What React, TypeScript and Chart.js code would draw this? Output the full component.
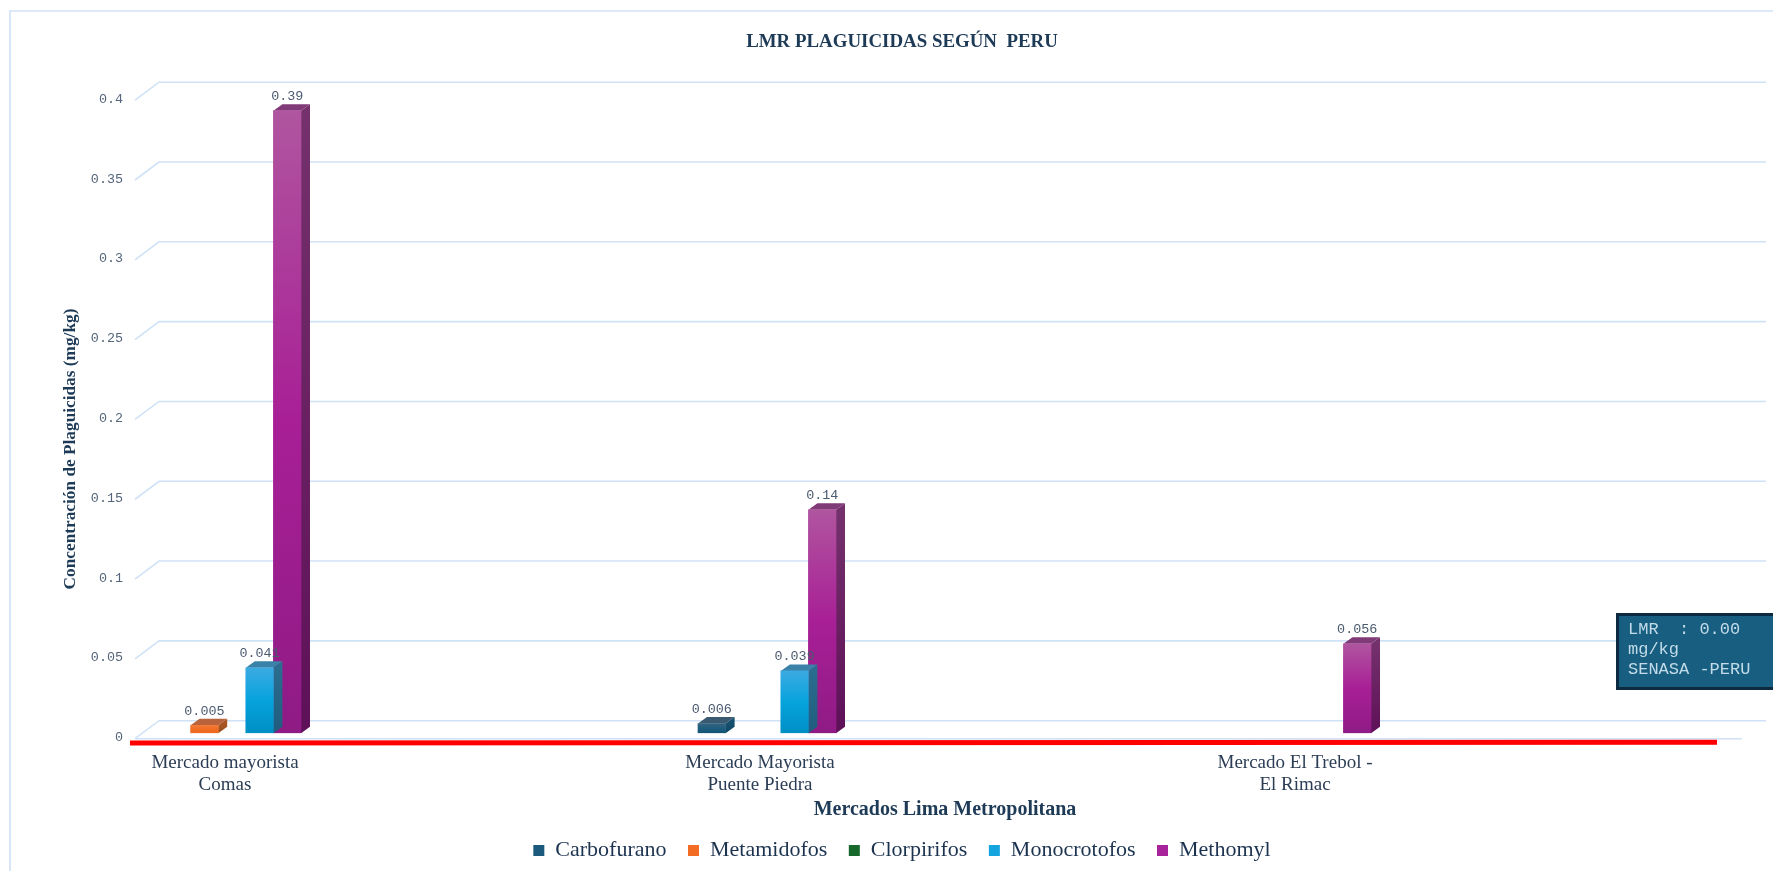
import React, { useEffect, useRef } from "react";
import { Chart, registerables } from "chart.js";

Chart.register(...registerables);

const categories = [
  ["Mercado mayorista", "Comas"],
  ["Mercado Mayorista", "Puente Piedra"],
  ["Mercado El Trebol -", "El Rimac"],
];
const carbofurano = [null, 0.006, null];
const metamidofos = [0.005, null, null];
const clorpirifos = [null, null, null];
const monocrotofos = [0.041, 0.039, null];
const methomyl = [0.39, 0.14, 0.056];
const lmrLines = ["LMR  : 0.00", "mg/kg", "SENASA -PERU"];

const serif = "'Liberation Serif'";
const mono = "'Liberation Mono'";
const GRID = "#cfe2f6";

const seriesStyles = [
  { label: "Carbofurano", data: carbofurano, front: ["#35627f", "#1e5d80", "#115473"], side: ["#15506e", "#0f4560"], top: "#3a5a72", swatch: "#1b5a7c" },
  { label: "Metamidofos", data: metamidofos, front: ["#f27c3c", "#f26c24", "#ee6a1f"], side: ["#a85522", "#974a1b"], top: "#b8633c", swatch: "#f26c24" },
  { label: "Clorpirifos", data: clorpirifos, front: ["#2a7a3c", "#16692a", "#0f5a20"], side: ["#0f4a1c", "#0b3d16"], top: "#2f6a3e", swatch: "#16692a" },
  { label: "Monocrotofos", data: monocrotofos, front: ["#3caae2", "#06a3dd", "#008fc4"], side: ["#2a6d8f", "#1f5d7e"], top: "#3b82a8", swatch: "#14a4de" },
  { label: "Methomyl", data: methomyl, front: ["#b0559f", "#a81f96", "#8f1b85"], side: ["#74316c", "#5e1058"], top: "#803a78", swatch: "#a8229a" },
];

const DX = 9;
const DY = 6.5;

function gradientFor(ctx: any, front: string[]) {
  if (ctx.type !== "data" || !ctx.parsed || !Number.isFinite(ctx.parsed.y)) return front[1];
  const y = ctx.chart.scales.y;
  const g = ctx.chart.ctx.createLinearGradient(0, y.getPixelForValue(ctx.parsed.y), 0, y.getPixelForValue(0));
  g.addColorStop(0, front[0]);
  g.addColorStop(0.5, front[1]);
  g.addColorStop(1, front[2]);
  return g;
}

const scene = {
  id: "scene",
  afterLayout(chart: any) {
    chart.titleBlock.left += 62;
    chart.legend.left += 62;
    chart.legend.top = 818;
  },
  beforeDatasetsDraw(chart: any) {
    const { ctx } = chart;
    const { x, y } = chart.scales;
    const l = x.left;
    const r = x.right;
    ctx.save();
    ctx.strokeStyle = GRID;
    ctx.lineWidth = 1.6;
    // chart frame
    ctx.beginPath();
    ctx.moveTo(10, 871);
    ctx.lineTo(10, 11);
    ctx.lineTo(1773, 11);
    ctx.stroke();
    // 3D walls
    y.ticks.forEach((t: any) => {
      const py = y.getPixelForValue(t.value);
      ctx.beginPath();
      ctx.moveTo(l, py + 5.5);
      ctx.lineTo(l + 24, py - 12.5);
      ctx.lineTo(r + 24, py - 12.5);
      ctx.stroke();
    });
    const y0 = y.getPixelForValue(0);
    ctx.beginPath();
    ctx.moveTo(l, y0 + 5.5);
    ctx.lineTo(r, y0 + 5.5);
    ctx.stroke();
    ctx.restore();
  },
  beforeDatasetDraw(chart: any, args: any) {
    const { ctx } = chart;
    const st = seriesStyles[args.index];
    const meta = chart.getDatasetMeta(args.index);
    meta.data.forEach((b: any, i: number) => {
      const v = st.data[i];
      if (v === null) return;
      const p = b.getProps(["x", "y", "base", "width"], true);
      const left = p.x - p.width / 2;
      const right = p.x + p.width / 2;
      ctx.save();
      const g = ctx.createLinearGradient(0, p.y, 0, p.base);
      g.addColorStop(0, st.side[0]);
      g.addColorStop(1, st.side[1]);
      ctx.fillStyle = g;
      ctx.beginPath();
      ctx.moveTo(right, p.y);
      ctx.lineTo(right + DX, p.y - DY);
      ctx.lineTo(right + DX, p.base - DY);
      ctx.lineTo(right, p.base);
      ctx.closePath();
      ctx.fill();
      ctx.fillStyle = st.top;
      ctx.beginPath();
      ctx.moveTo(left, p.y);
      ctx.lineTo(left + DX, p.y - DY);
      ctx.lineTo(right + DX, p.y - DY);
      ctx.lineTo(right, p.y);
      ctx.closePath();
      ctx.fill();
      ctx.restore();
    });
  },
  afterDatasetsDraw(chart: any) {
    const { ctx } = chart;
    const { x, y } = chart.scales;
    ctx.save();
    // LMR line sits on the zero level
    const y0 = y.getPixelForValue(0);
    ctx.strokeStyle = "#ff0000";
    ctx.lineWidth = 5;
    ctx.beginPath();
    ctx.moveTo(x.left - 5, y0 + 9.8);
    ctx.lineTo(x.right - 25, y0 + 9);
    ctx.stroke();
    // value labels
    ctx.font = `13.4px ${mono}`;
    ctx.fillStyle = "#4a5a70";
    ctx.textAlign = "center";
    ctx.textBaseline = "middle";
    seriesStyles.forEach((st, di) => {
      chart.getDatasetMeta(di).data.forEach((b: any, i: number) => {
        const v = st.data[i];
        if (v === null) return;
        ctx.fillText(String(v), b.x, b.y - 14);
      });
    });
    // axis titles
    ctx.fillStyle = "#1d3a56";
    ctx.font = `bold 20px ${serif}`;
    ctx.fillText("Mercados Lima Metropolitana", 945, 810);
    ctx.translate(71, 449);
    ctx.rotate(-Math.PI / 2);
    ctx.font = `bold 17.3px ${serif}`;
    ctx.fillText("Concentración de Plaguicidas (mg/kg)", 0, 0);
    ctx.restore();
    // LMR note
    ctx.save();
    ctx.fillStyle = "#175e80";
    ctx.fillRect(1617, 614, 156, 75);
    ctx.strokeStyle = "#0d2b40";
    ctx.lineWidth = 3;
    ctx.strokeRect(1617.5, 614.5, 157, 74);
    ctx.fillStyle = "#c3dbe8";
    ctx.font = `17px ${mono}`;
    ctx.textAlign = "left";
    ctx.textBaseline = "middle";
    lmrLines.forEach((t, i) => ctx.fillText(t, 1628, 629.5 + i * 20));
    ctx.restore();
  },
};

export default function App() {
  const ref = useRef<HTMLCanvasElement>(null);
  useEffect(() => {
    const chart = new Chart(ref.current as HTMLCanvasElement, {
      type: "bar",
      data: {
        datasets: seriesStyles.map((s) => ({
          label: s.label,
          data: s.data.map((v, i) => ({ x: i, y: v })),
          backgroundColor: (c: any) => gradientFor(c, s.front),
          barThickness: 27.6,
          barPercentage: 1,
          categoryPercentage: 1,
          borderWidth: 0,
        })),
      },
      options: {
        animation: false,
        responsive: false,
        layout: { padding: { right: 31 } },
        scales: {
          x: {
            type: "linear",
            offset: false,
            min: -0.1813,
            max: 2.8224,
            border: { display: false },
            grid: { display: false, drawTicks: false },
            afterBuildTicks: (s: any) => {
              s.ticks = categories.map((_, i) => ({ value: i }));
            },
            afterFit: (s: any) => {
              s.height = 84.3;
            },
            ticks: {
              callback: (v: any) => categories[v],
              labelOffset: -7,
              padding: 18,
              maxRotation: 0,
              autoSkip: false,
              color: "#2b3d55",
              font: { family: serif, size: 19, lineHeight: 1.2 },
            },
          },
          y: {
            min: 0,
            max: 0.4,
            border: { display: false },
            grid: { display: false, drawTicks: false },
            afterFit: (s: any) => {
              s.width = 135;
            },
            ticks: {
              stepSize: 0.05,
              padding: 12,
              labelOffset: 4.5,
              color: "#55657a",
              font: { family: mono, size: 13.4 },
              callback: (v: any) => String(+Number(v).toFixed(2)),
            },
          },
        },
        plugins: {
          tooltip: { enabled: false },
          title: {
            display: true,
            text: "LMR PLAGUICIDAS SEGÚN  PERU",
            color: "#1d3a56",
            font: { family: serif, size: 18.9, weight: "bold", lineHeight: 1.2 },
            padding: { top: 31, bottom: 41 },
          },
          legend: {
            position: "bottom",
            labels: {
              boxWidth: 11,
              boxHeight: 11,
              padding: 21.5,
              color: "#1c3350",
              font: { family: serif, size: 22 },
              generateLabels: () =>
                seriesStyles.map((s, i) => ({
                  text: s.label,
                  fillStyle: s.swatch,
                  strokeStyle: s.swatch,
                  lineWidth: 0,
                  datasetIndex: i,
                  fontColor: "#1c3350",
                })),
            },
          },
        },
      },
      plugins: [scene],
    } as any);
    return () => chart.destroy();
  }, []);
  return (
    <canvas
      ref={ref}
      width={1773}
      height={871}
      style={{ position: "fixed", left: 0, top: 0, display: "block", background: "#ffffff" }}
    />
  );
}
